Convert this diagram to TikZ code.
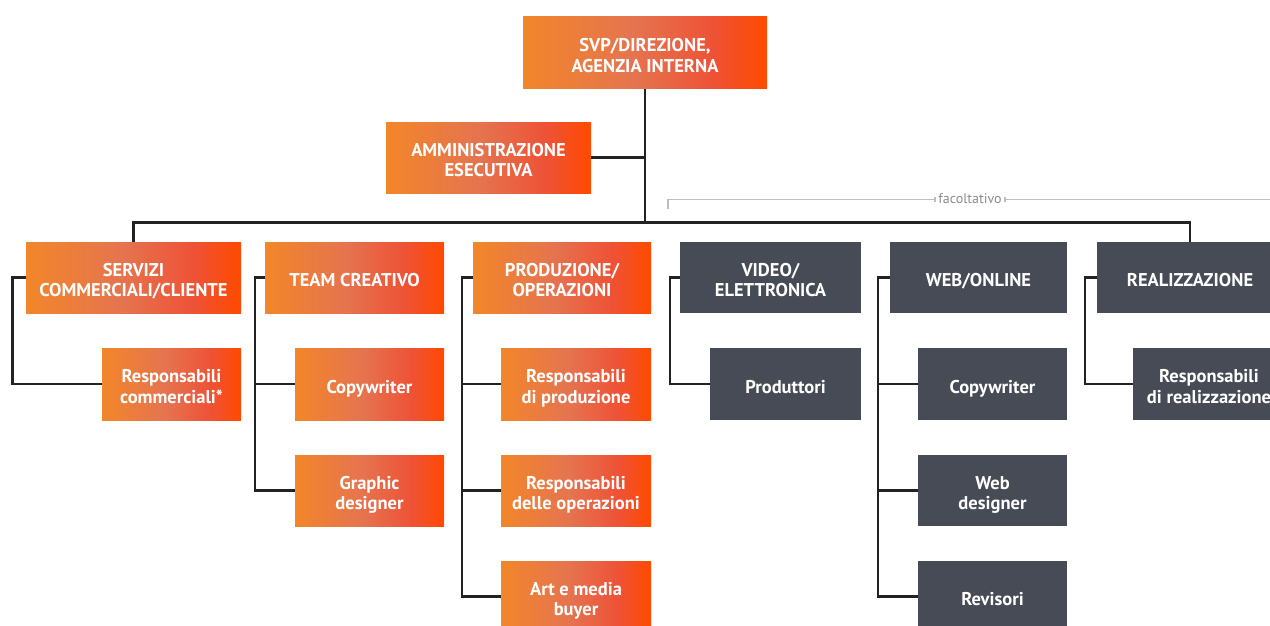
\documentclass[tikz,border=0pt]{standalone}
\usepackage{fontspec}
\setmainfont{PT Sans}
\usetikzlibrary{calc}
\definecolor{oA}{HTML}{F2862A}
\definecolor{oB}{HTML}{E5744F}
\definecolor{oC}{HTML}{EE5236}
\definecolor{oD}{HTML}{FF4A00}
\definecolor{dk}{HTML}{474B55}
\definecolor{ln}{HTML}{222222}
\definecolor{gl}{HTML}{BDBDBD}
\definecolor{gt}{HTML}{8C8C8C}
\pgfdeclarehorizontalshading{orgr}{100bp}{color(0bp)=(oA); color(25bp)=(oA); color(47.5bp)=(oB); color(64bp)=(oC); color(75bp)=(oD); color(100bp)=(oD)}
\newcommand\boxtxt[1]{\raisebox{0pt}[\dimexpr\height+10pt\relax][\depth]{\begin{tabular}{@{}c@{}}#1\end{tabular}}}
\tikzset{
  box/.style={rectangle, inner sep=0pt, align=center, text=white,
    font=\fontsize{18.5}{20.5}\selectfont\bfseries},
  obox/.style={box, shading=orgr},
  gbox/.style={box, fill=dk},
  conn/.style={draw=ln, line width=2.4pt},
  opt/.style={draw=gl, line width=1.4pt},
}
\begin{document}
\begin{tikzpicture}[x=1pt,y=-1pt]
\useasboundingbox (0,0) rectangle (1270,626);
\clip (0,0) rectangle (1270,626);
% top
\node[obox, minimum width=244pt, minimum height=72pt] (svp) at (645,53) {\boxtxt{SVP/DIREZIONE,\\AGENZIA INTERNA}};
\node[obox, minimum width=205pt, minimum height=71pt] (adm) at (488.5,157.5) {\boxtxt{AMMINISTRAZIONE\\ESECUTIVA}};
% level 1
\node[obox, minimum width=215pt, minimum height=71pt] (serv) at (133.5,277.5) {\boxtxt{SERVIZI\\COMMERCIALI/CLIENTE}};
\node[obox, minimum width=179pt, minimum height=71pt] (team) at (354.5,277.5) {\boxtxt{TEAM CREATIVO}};
\node[obox, minimum width=178pt, minimum height=71pt] (prod) at (562,277.5) {\boxtxt{PRODUZIONE/\\OPERAZIONI}};
\node[gbox, minimum width=181pt, minimum height=71pt] (video) at (770.5,277.5) {\boxtxt{VIDEO/\\ELETTRONICA}};
\node[gbox, minimum width=177pt, minimum height=71pt] (web) at (978.5,277.5) {\boxtxt{WEB/ONLINE}};
\node[gbox, minimum width=186pt, minimum height=71pt] (real) at (1190,277.5) {\boxtxt{REALIZZAZIONE}};
% level 2
\node[obox, minimum width=139pt, minimum height=72pt] (respc) at (171.5,384) {\boxtxt{Responsabili\\commerciali*}};
\node[obox, minimum width=149pt, minimum height=72pt] (copy1) at (369.5,384) {\boxtxt{Copywriter}};
\node[obox, minimum width=149pt, minimum height=71pt] (graph) at (369.5,490.5) {\boxtxt{Graphic\\designer}};
\node[obox, minimum width=150pt, minimum height=72pt] (respp) at (576,384) {\boxtxt{Responsabili\\di produzione}};
\node[obox, minimum width=150pt, minimum height=71pt] (respo) at (576,490.5) {\boxtxt{Responsabili\\delle operazioni}};
\node[obox, minimum width=150pt, minimum height=71pt] (art) at (576,596.5) {\boxtxt{Art e media\\buyer}};
\node[gbox, minimum width=151pt, minimum height=72pt] (prodt) at (785.5,384) {\boxtxt{Produttori}};
\node[gbox, minimum width=149pt, minimum height=72pt] (copy2) at (992.5,384) {\boxtxt{Copywriter}};
\node[gbox, minimum width=149pt, minimum height=71pt] (webd) at (992.5,490.5) {\boxtxt{Web\\designer}};
\node[gbox, minimum width=149pt, minimum height=71pt] (rev) at (992.5,596.5) {\boxtxt{Revisori}};
\node[gbox, minimum width=152pt, minimum height=72pt] (respr) at (1209,384) {\boxtxt{Responsabili\\di realizzazione}};
% connectors top
\coordinate (bar) at (0,222.5);
\draw[conn] (svp.south) -- (svp.south |- bar);
\draw[conn] (adm.east) -- (adm.east -| svp.south);
\draw[conn] (serv.north) -- (serv.north |- bar) -- (real.north |- bar) -- (real.north);
% side connectors
\draw[conn] (serv.west) -- ++(-13.5,0) |- (respc.west);
\draw[conn] (team.west) -- ++(-10,0) coordinate (tt) |- (graph.west);
\draw[conn] (tt |- copy1.west) -- (copy1.west);
\draw[conn] (prod.west) -- ++(-11,0) coordinate (pt) |- (art.west);
\draw[conn] (pt |- respp.west) -- (respp.west);
\draw[conn] (pt |- respo.west) -- (respo.west);
\draw[conn] (video.west) -- ++(-10,0) |- (prodt.west);
\draw[conn] (web.west) -- ++(-12,0) coordinate (wt) |- (rev.west);
\draw[conn] (wt |- copy2.west) -- (copy2.west);
\draw[conn] (wt |- webd.west) -- (webd.west);
\draw[conn] (real.west) -- ++(-12,0) |- (respr.west);
% facoltativo bracket
\node[text=gt, inner sep=3pt, font=\fontsize{14}{16}\selectfont] (fac) at (970,199) {facoltativo};
\coordinate (fl) at (668,209);
\coordinate (fr) at (1272,199.5);
\draw[opt] (fl) -- (fl |- fr) -- (fac.west |- fr);
\draw[opt] (fac.east |- fr) -- (fr);
\draw[opt] ($(fac.west |- fr)+(0,-2.5)$) -- ($(fac.west |- fr)+(0,2.5)$);
\draw[opt] ($(fac.east |- fr)+(0,-2.5)$) -- ($(fac.east |- fr)+(0,2.5)$);
\end{tikzpicture}
\end{document}
